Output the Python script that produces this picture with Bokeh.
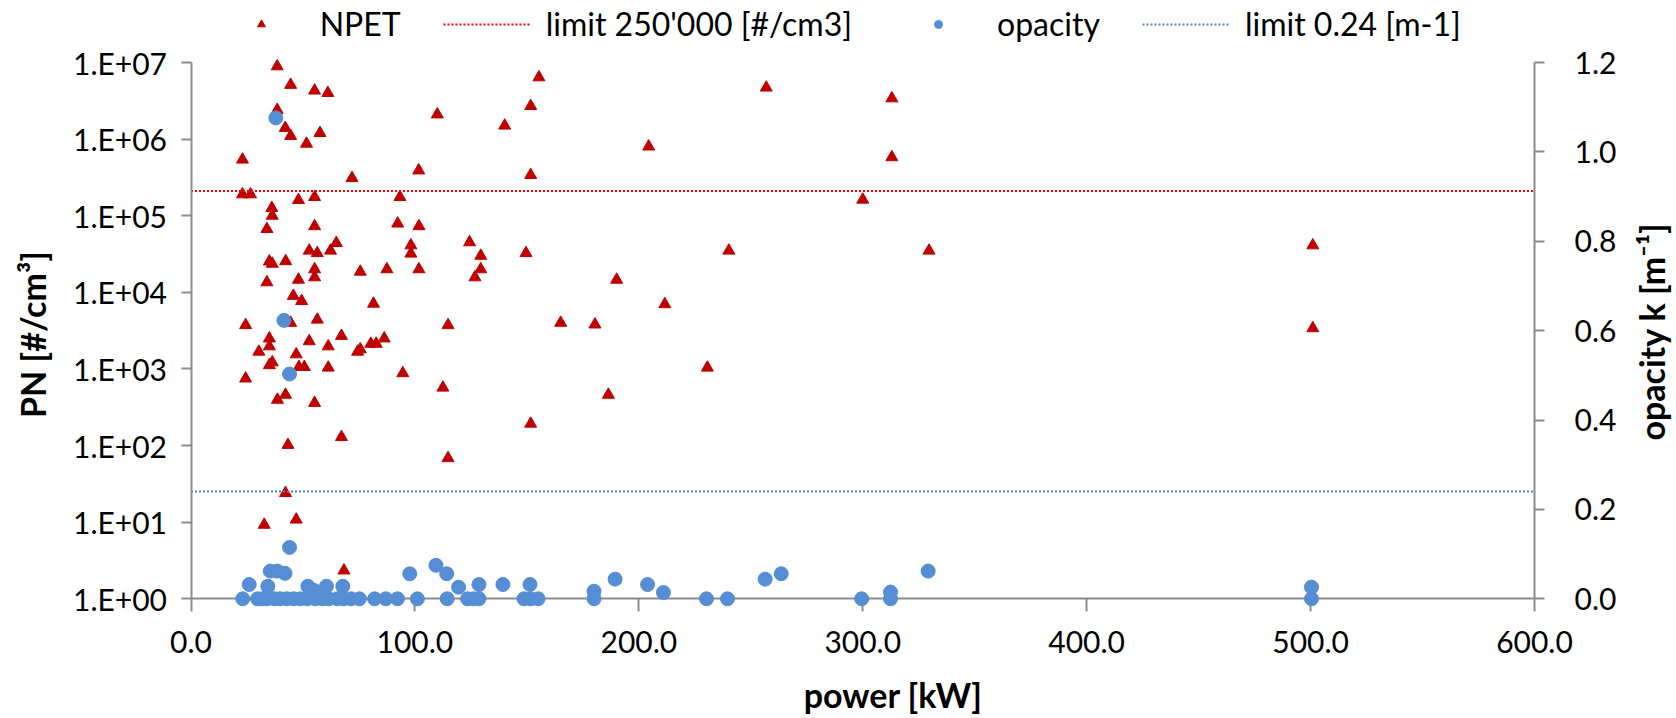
import math
from bokeh.plotting import figure
from bokeh.models import (Range1d, LinearAxis, LinearScale, FixedTicker, CustomJSTickFormatter,
                          Legend, LegendItem, Label)
from bokeh.embed import file_html
from bokeh.resources import INLINE

# ---------------- data ----------------
NPET_POWER = [
    38.5, 44.5, 55.2, 61.1, 38.5, 110.0, 42.1, 44.5, 57.6, 51.6,
    23.0, 101.7, 71.9, 23.0, 26.6, 48.0, 55.2, 93.3, 36.1, 36.3,
    155.4, 151.7, 140.1, 204.4, 151.7, 124.4, 129.4, 149.6, 240.2, 129.4,
    126.8, 190.1, 211.6, 165.1, 180.4, 230.6, 186.4, 151.7,
    33.9, 55.2, 92.3, 101.8, 64.9, 98.2, 52.8, 56.4, 62.3, 98.2,
    35.0, 36.3, 42.3, 55.2, 55.2, 75.6, 87.5, 101.8, 33.9, 48.0,
    45.7, 49.4, 81.5, 24.4, 44.5, 56.4, 114.8, 35.0, 35.0, 52.8,
    67.2, 86.3, 80.3, 82.7, 30.3, 61.3, 75.6, 74.4, 47.0, 36.3,
    35.0, 48.2, 50.6, 61.3, 94.6, 24.4, 112.5,
    42.2, 38.6, 55.2, 67.2, 43.3, 114.8, 42.2, 32.7, 47.0, 68.3,
    256.9, 313.0, 313.0, 300.0, 329.6, 501.0, 501.0,
]
NPET_PN = [
    8.9e6, 5.1e6, 4.3e6, 4.0e6, 2.4e6, 2.1e6, 1.4e6, 1.1e6, 1.2e6, 8.7e5,
    5.4e5, 3.9e5, 3.1e5, 1.9e5, 1.9e5, 1.6e5, 1.75e5, 1.75e5, 1.26e5, 1.0e5,
    6.4e6, 2.7e6, 1.5e6, 8.0e5, 3.4e5, 4.5e4, 3.0e4, 3.25e4, 3.5e4, 2.0e4,
    1.57e4, 1.46e4, 7.0e3, 4.0e3, 3.8e3, 1.04e3, 4.6e2, 1.93e2,
    6.7e4, 7.3e4, 7.9e4, 7.3e4, 4.4e4, 4.1e4, 3.5e4, 3.25e4, 3.5e4, 3.2e4,
    2.53e4, 2.36e4, 2.55e4, 2.0e4, 1.57e4, 1.86e4, 2.0e4, 2.0e4, 1.35e4, 1.46e4,
    9.0e3, 7.7e3, 7.1e3, 3.73e3, 4.0e3, 4.4e3, 3.73e3, 2.5e3, 1.97e3, 2.3e3,
    2.7e3, 2.5e3, 2.13e3, 2.13e3, 1.68e3, 1.97e3, 1.8e3, 1.68e3, 1.55e3, 1.22e3,
    1.12e3, 1.06e3, 1.06e3, 1.04e3, 8.8e2, 7.5e2, 5.7e2,
    4.6e2, 3.96e2, 3.6e2, 1.29e2, 1.02e2, 68.5, 24.0, 9.25, 10.8, 2.34,
    4.7e6, 3.4e6, 5.8e5, 1.62e5, 3.5e4, 4.1e4, 3.4e3,
]
OPACITY_POWER = [
    23.1, 29.7, 31.8, 33.9, 37.2, 39.7, 42.8, 45.9, 48.9, 51.9,
    55.5, 58.6, 61.5, 65.3, 68.2, 71.5, 75.2, 82.0, 87.0, 92.2,
    101.1, 114.4, 123.5, 126.2, 128.6, 148.7, 151.7, 155.0, 180.0, 230.2,
    239.6, 299.5, 312.4, 500.4,
    26.0, 34.3, 35.4, 38.5, 42.0, 44.0, 52.2, 54.9, 60.5, 67.8,
    97.7, 109.4, 114.2, 119.5, 128.6, 139.3, 151.4, 180.0, 189.4, 203.9,
    211.0, 256.4, 263.6, 312.4, 329.2, 500.4, 37.9, 41.5, 44.0,
]
OPACITY_K = [
    0.0, 0.0, 0.0, 0.0, 0.0, 0.0, 0.0, 0.0, 0.0, 0.0,
    0.0, 0.0, 0.0, 0.0, 0.0, 0.0, 0.0, 0.0, 0.0, 0.0,
    0.0, 0.0, 0.0, 0.0, 0.0, 0.0, 0.0, 0.0, 0.0, 0.0,
    0.0, 0.0, 0.0, 0.0,
    0.032, 0.028, 0.062, 0.062, 0.057, 0.115, 0.028, 0.019, 0.028, 0.028,
    0.056, 0.075, 0.056, 0.026, 0.032, 0.032, 0.032, 0.017, 0.044, 0.032,
    0.014, 0.044, 0.056, 0.015, 0.062, 0.026, 1.076, 0.623, 0.503,
]
LIMIT_X = [0.0, 600.0]
LIMIT_PN = [2.1e5, 2.1e5]
LIMIT_OP = [0.24, 0.24]

X_TICKS = [0, 100, 200, 300, 400, 500, 600]
X_TICK_LABELS = ["0.0", "100.0", "200.0", "300.0", "400.0", "500.0", "600.0"]
PN_TICKS = [1, 10, 100, 1e3, 1e4, 1e5, 1e6, 1e7]
PN_TICK_LABELS = ["1.E+00", "1.E+01", "1.E+02", "1.E+03", "1.E+04", "1.E+05", "1.E+06", "1.E+07"]
OP_TICKS = [0.0, 0.2, 0.4, 0.6, 0.8, 1.0, 1.2]
OP_TICK_LABELS = ["0.0", "0.2", "0.4", "0.6", "0.8", "1.0", "1.2"]

# ---------------- layout (pixel geometry of the plot area) ----------------
W, H = 1676, 718
X0_PX, X600_PX = 190.5, 1534.0      # x = 0 and x = 600
Y1_PX, Y7_PX = 598.3, 62.0          # PN = 1 and PN = 1e7  (opacity 0 and 1.2)

def xd(px):
    return (px - X0_PX) / (X600_PX - X0_PX) * 600.0

def yl(px):
    return 10 ** ((Y1_PX - px) / (Y1_PX - Y7_PX) * 7.0)

def yo(px):
    return (Y1_PX - px) / (Y1_PX - Y7_PX) * 1.2

FONT = "Lato"
AX = "#8c8c8c"
TICK_FS = "30px"
TITLE_FS = "34px"

def fmt(ticks, labels):
    return CustomJSTickFormatter(args=dict(tk=ticks, lb=labels), code="""
        for (let i = 0; i < tk.length; i++) {
            if (Math.abs(tk[i] - tick) <= 1e-9 * Math.max(1, Math.abs(tk[i]))) return lb[i];
        }
        return "";
    """)

p = figure(width=W, height=H, x_range=Range1d(xd(0), xd(W)),
           y_range=Range1d(yl(H), yl(0)), y_axis_type="log",
           output_backend="svg", toolbar_location=None,
           min_border_left=0, min_border_right=0, min_border_top=0, min_border_bottom=0)
p.extra_y_ranges = {"op": Range1d(yo(H), yo(0))}
p.extra_y_scales = {"op": LinearScale()}
p.outline_line_color = None
p.xgrid.grid_line_color = None
p.ygrid.grid_line_color = None
p.background_fill_color = "white"
p.border_fill_color = "white"

def style_axis(ax):
    ax.axis_line_color = AX
    ax.axis_line_width = 2
    ax.major_tick_line_color = AX
    ax.major_tick_line_width = 2
    ax.minor_tick_line_color = None
    ax.major_tick_in = 0
    ax.major_label_text_font = FONT
    ax.major_label_text_font_size = TICK_FS
    ax.major_label_text_color = "black"

# x axis (drawn at PN = 1, beneath the markers)
xa = p.xaxis[0]
style_axis(xa)
xa.ticker = FixedTicker(ticks=X_TICKS)
xa.formatter = fmt(X_TICKS, X_TICK_LABELS)
xa.fixed_location = 1
xa.bounds = (0, 600)
xa.major_tick_out = 13
xa.major_label_standoff = 19
xa.level = "underlay"

# left axis
ya = p.yaxis[0]
style_axis(ya)
ya.ticker = FixedTicker(ticks=PN_TICKS)
ya.formatter = fmt(PN_TICKS, PN_TICK_LABELS)
ya.fixed_location = 0
ya.bounds = (1, 1e7)
ya.major_tick_out = 10
ya.major_label_standoff = 14

# right axis
ra = LinearAxis(y_range_name="op", ticker=FixedTicker(ticks=OP_TICKS),
                formatter=fmt(OP_TICKS, OP_TICK_LABELS))
style_axis(ra)
ra.fixed_location = 600
ra.bounds = (0, 1.2)
ra.major_tick_out = 10
ra.major_label_standoff = 30
p.add_layout(ra, "right")

# series
r_npet = p.scatter(NPET_POWER, NPET_PN, marker="triangle", size=12,
                   fill_color="#C00000", line_color="#C00000")
r_lim_pn = p.line(LIMIT_X, LIMIT_PN, line_color="#FF0000", line_width=2, line_dash="2 2")
r_op = p.scatter(OPACITY_POWER, OPACITY_K, marker="circle", size=14,
                 fill_color="#558ED5", line_color="#558ED5", y_range_name="op")
r_lim_op = p.line(LIMIT_X, LIMIT_OP, line_color="#4F81BD", line_width=2, line_dash="2 2",
                  y_range_name="op")

# legend across the top
legend = Legend(items=[
    LegendItem(label="NPET", renderers=[r_npet]),
    LegendItem(label="limit 250'000 [#/cm3]", renderers=[r_lim_pn]),
    LegendItem(label="opacity", renderers=[r_op]),
    LegendItem(label="limit 0.24 [m-1]", renderers=[r_lim_op]),
], orientation="horizontal", location=(216.7, 675))
legend.label_text_font = FONT
legend.label_text_font_size = "32px"
legend.label_text_color = "black"
legend.glyph_width = 88
legend.glyph_height = 20
legend.label_standoff = 15
legend.spacing = 42
legend.padding = 0
legend.margin = 0
legend.border_line_color = None
legend.background_fill_alpha = 0
p.add_layout(legend)

# axis titles
title_kw = dict(text_font=FONT, text_font_size=TITLE_FS, text_font_style="bold",
                text_color="black", text_align="center", text_baseline="middle")
p.add_layout(Label(x=xd(892.7), y=yl(694), text="power [kW]", **title_kw))
p.add_layout(Label(x=xd(32), y=yl(334), angle=math.pi / 2,
                   text="PN [#/cm\u00b3]", **title_kw))
p.add_layout(Label(x=xd(1651), y=yl(331), angle=math.pi / 2,
                   text="opacity k [m\u207b\u00b9]", **title_kw))

open("out.html", "w").write(file_html(p, INLINE))
